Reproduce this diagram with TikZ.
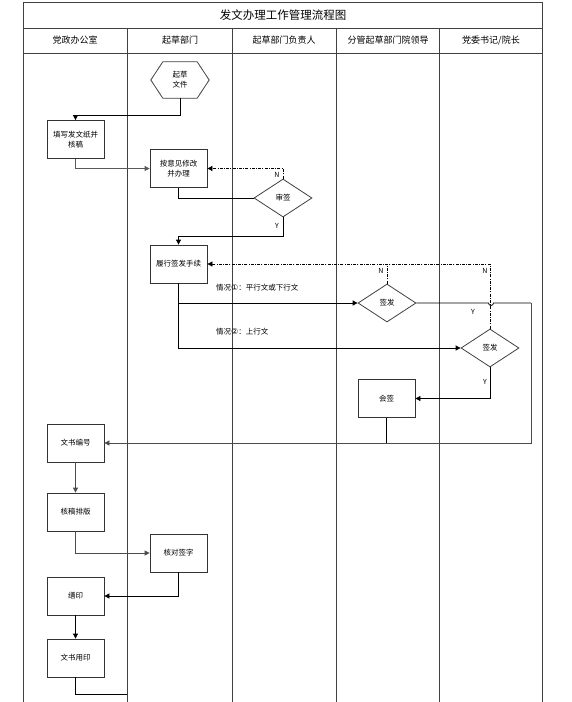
\documentclass[tikz,border=0pt]{standalone}
\usepackage{fontspec}
\setmainfont{Noto Sans CJK SC}
\newfontfamily\symfont{DejaVu Sans}
\usetikzlibrary{shapes.geometric,arrows.meta}
\begin{document}
\begin{tikzpicture}[x=1pt,y=-1pt,
 frame/.style={draw=black!75, line width=0.8pt},
 box/.style={draw=black!80, line width=0.8pt, minimum width=57pt, minimum height=38pt, inner sep=1pt, font=\fontsize{7.5}{10}\selectfont, align=center},
 dia/.style={diamond, draw=black!75, line width=0.8pt, minimum width=58pt, minimum height=38pt, inner sep=0pt, font=\fontsize{7.5}{10}\selectfont},
 conn/.style={line width=0.8pt, draw=black},
 tip/.style={-{Triangle[length=5pt,width=5pt]}},
 arr/.style={conn, tip},
 dd/.style={conn, dash pattern=on 3pt off 1.2pt on 1pt off 1.2pt},
 lbl/.style={font=\fontsize{7}{8}\selectfont, inner sep=1pt},
 hdr/.style={font=\fontsize{9}{10}\selectfont, inner sep=0pt}
]
\useasboundingbox (0,0) rectangle (571,702);
% frame and lanes
\draw[frame] (23,702) -- (23,2) -- (542,2) -- (542,702);
\draw[frame] (23,28) -- (542,28);
\draw[frame] (23,53) -- (542,53);
\foreach \x in {127,232,336,439} \draw[frame] (\x,28) -- (\x,702);
\node[font=\fontsize{11.5}{12}\selectfont] (title) at (283,15) {发文办理工作管理流程图};
\node[hdr] (h1) at (75,40.5) {党政办公室};
\node[hdr] (h2) at (180,40.5) {起草部门};
\node[hdr] (h3) at (284,40.5) {起草部门负责人};
\node[hdr] (h4) at (388,40.5) {分管起草部门院领导};
\node[hdr] (h5) at (491,40.5) {党委书记/院长};

% hexagon
\node[minimum width=58pt, minimum height=36pt, inner sep=0pt, align=center, font=\fontsize{7.5}{10}\selectfont] (hex) at (180,80) {起草\\文件};
\draw[draw=black!75, line width=0.8pt] (hex.west) -- ([xshift=12pt]hex.north west) -- ([xshift=-12pt]hex.north east) -- (hex.east) -- ([xshift=-12pt]hex.south east) -- ([xshift=12pt]hex.south west) -- cycle;

\node[box] (n1) at (75.5,139.5) {填写发文纸并\\核稿};
\node[box] (n2) at (178.5,168.5) {按意见修改\\并办理};
\node[dia] (d1) at (283,198) {审签};
\node[box] (n3) at (178.5,264) {履行签发手续};
\node[dia] (d2) at (387,303) {签发};
\node[dia] (d3) at (490,348) {签发};
\node[box] (hq) at (386.5,398.5) {会签};
\node[box] (n5) at (75.5,443) {文书编号};
\node[box] (n6) at (75.5,512) {核稿排版};
\node[box] (n7) at (178.5,553) {核对签字};
\node[box] (n8) at (75.5,596) {缮印};
\node[box] (n9) at (75.5,658) {文书用印};
\coordinate (endpt) at (127,694);
\coordinate (hop) at (491,303);

% connectors
\draw[arr] (hex.south) -- ++(0,17) -| (n1.north);
\draw[arr, draw=black!65] (n1.south) |- (n2.west);
\draw[conn] (n2.south) |- (d1.west);
\draw[dd, tip] (d1.north) |- (n2.east);
\node[lbl] (lN1) at (277,175) {N};
\draw[arr] (d1.south) -- ++(0,19) -| (n3.north);
\node[lbl] (lY1) at (277,226) {Y};

\draw[dd, tip] (d3.north) |- (n3.east);
\draw[dd] (d2.north) -- (d2.north |- n3.east);
\node[lbl] (lN2) at (381,271) {N};
\node[lbl] (lN3) at (485,271) {N};

\draw[arr] (n3.south) |- (d2.west);
\draw[arr] (n3.south) |- (d3.west);
\node[lbl, anchor=west, font=\fontsize{7.5}{9}\selectfont] (c1) at (215,288) {情况{\symfont\fontsize{8}{9}\selectfont ①}：平行文或下行文};
\node[lbl, anchor=west, font=\fontsize{7.5}{9}\selectfont] (c2) at (215,332) {情况{\symfont\fontsize{8}{9}\selectfont ②}：上行文};

\draw[conn] (d2.east) -- ([xshift=-2.5pt]hop) arc[start angle=180, end angle=360, radius=2.5pt] -- (531,303);
\draw[arr, draw=black!70] (531,303) |- (n5.east);
\node[lbl] (lY2) at (473,312) {Y};
\draw[arr] (d3.south) |- (hq.east);
\node[lbl] (lY3) at (485,382) {Y};
\draw[conn] (hq.south) -- (hq.south |- n5.east);

\draw[arr, draw=black!70] (n5) -- (n6);
\draw[arr, draw=black!70] (n6.south) |- (n7.west);
\draw[arr] (n7.south) |- (n8.east);
\draw[arr] (n8) -- (n9);
\draw[conn] (n9.south) |- (endpt);
\end{tikzpicture}
\end{document}
